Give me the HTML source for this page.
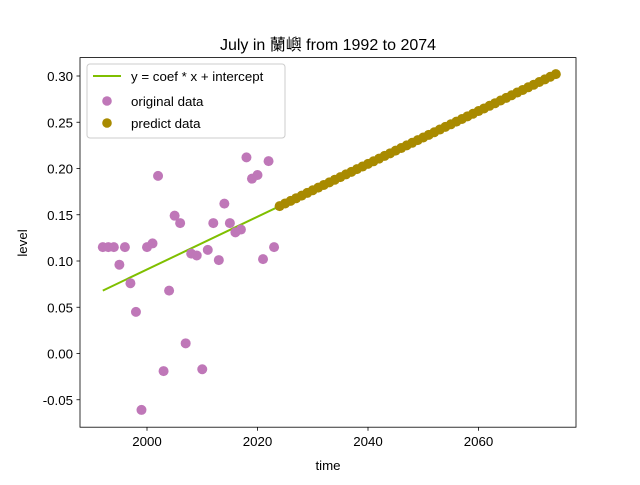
<!DOCTYPE html>
<html><head><meta charset="utf-8"><style>
body{margin:0;background:#fff}
text{font-family:"Liberation Sans","Noto Sans CJK TC",sans-serif;fill:#000}
</style></head><body>
<svg id="chart" width="640" height="480" xmlns="http://www.w3.org/2000/svg">
<rect width="640" height="480" fill="#fff"/>
<text x="328" y="50" font-size="16" text-anchor="middle">July in 蘭嶼 from 1992 to 2074</text>
<g id="plot"></g>
<rect x="80" y="57.6" width="496" height="369.6" fill="none" stroke="#000" stroke-width="0.8"/>
<text x="328" y="470" font-size="13.3" text-anchor="middle">time</text>
<text transform="translate(27,243) rotate(-90)" font-size="13.3" text-anchor="middle">level</text>
<g>
<rect x="87" y="64" width="198" height="74" rx="3" fill="#fff" fill-opacity="0.8" stroke="#ccc"/>
<line x1="93" y1="76" x2="121" y2="76" stroke="#7fbf00" stroke-width="2"/>
<text x="131" y="81" font-size="13.3">y = coef * x + intercept</text>
<circle cx="107" cy="101" r="4.8" fill="#bf77b8"/>
<text x="131" y="106" font-size="13.3">original data</text>
<circle cx="107" cy="123" r="4.8" fill="#a88a00"/>
<text x="131" y="128" font-size="13.3">predict data</text>
</g>
</svg>
<script>
const origYears=[1992,1993,1994,1995,1996,1997,1998,1999,2000,2001,2002,2003,2004,2005,2006,2007,2008,2009,2010,2011,2012,2013,2014,2015,2016,2017,2018,2019,2020,2021,2022,2023];
const origValues=[0.115,0.115,0.115,0.096,0.115,0.076,0.045,-0.061,0.115,0.119,0.192,-0.019,0.068,0.149,0.141,0.011,0.108,0.106,-0.017,0.112,0.141,0.101,0.162,0.141,0.131,0.134,0.212,0.189,0.193,0.102,0.208,0.115];
const predStartYear=2024;
const predValues=[0.1593,0.1622,0.1650,0.1679,0.1707,0.1736,0.1765,0.1793,0.1822,0.1850,0.1879,0.1907,0.1936,0.1964,0.1993,0.2021,0.2050,0.2078,0.2107,0.2136,0.2164,0.2193,0.2221,0.2250,0.2278,0.2307,0.2335,0.2364,0.2392,0.2421,0.2450,0.2478,0.2507,0.2535,0.2564,0.2592,0.2621,0.2649,0.2678,0.2706,0.2735,0.2763,0.2792,0.2821,0.2849,0.2878,0.2906,0.2935,0.2963,0.2992,0.3020];
const lineYears=[1992,2074];
const lineValues=[0.068,0.302];
const xTicks=[2000,2020,2040,2060];
const yTicks=[-0.05,0,0.05,0.10,0.15,0.20,0.25,0.30];
const yTickLabels=["-0.05","0.00","0.05","0.10","0.15","0.20","0.25","0.30"];

const NS="http://www.w3.org/2000/svg";
const X=y=>147+(y-2000)*5.525;
const Y=v=>353.5-v*925;
const svg=document.getElementById('chart');
const g=document.getElementById('plot');
function mk(tag,attrs,parent){const e=document.createElementNS(NS,tag);for(const k in attrs)e.setAttribute(k,attrs[k]);(parent||g).appendChild(e);return e;}
xTicks.forEach(t=>{
  const l=mk('line',{x1:X(t),x2:X(t),y1:427.2,y2:430.7,stroke:'#000','stroke-width':0.8},svg);
  
  
  const tx=mk('text',{x:X(t),y:446,'font-size':13.3,'text-anchor':'middle'},svg);tx.textContent=t;
  
  
});
yTicks.forEach((t,i)=>{
  const l=mk('line',{x1:76.5,x2:80,y1:Y(t),y2:Y(t),stroke:'#000','stroke-width':0.8},svg);
  
  
  const tx=mk('text',{x:73,y:Y(t)+5,'font-size':13.3,'text-anchor':'end'},svg);tx.textContent=yTickLabels[i];
  
  
});
const ln=mk('line',{x1:X(lineYears[0]),y1:Y(lineValues[0]),x2:X(lineYears[1]),y2:Y(lineValues[1]),stroke:'#7fbf00','stroke-width':2});


origYears.forEach((yr,i)=>{
  const c=mk('circle',{cx:X(yr),cy:Y(origValues[i]),r:5,fill:'#bf77b8'});
  
  
});
predValues.forEach((v,i)=>{
  const c=mk('circle',{cx:X(predStartYear+i),cy:Y(v),r:5,fill:'#a88a00'});
  
  
});
</script>
</body></html>
